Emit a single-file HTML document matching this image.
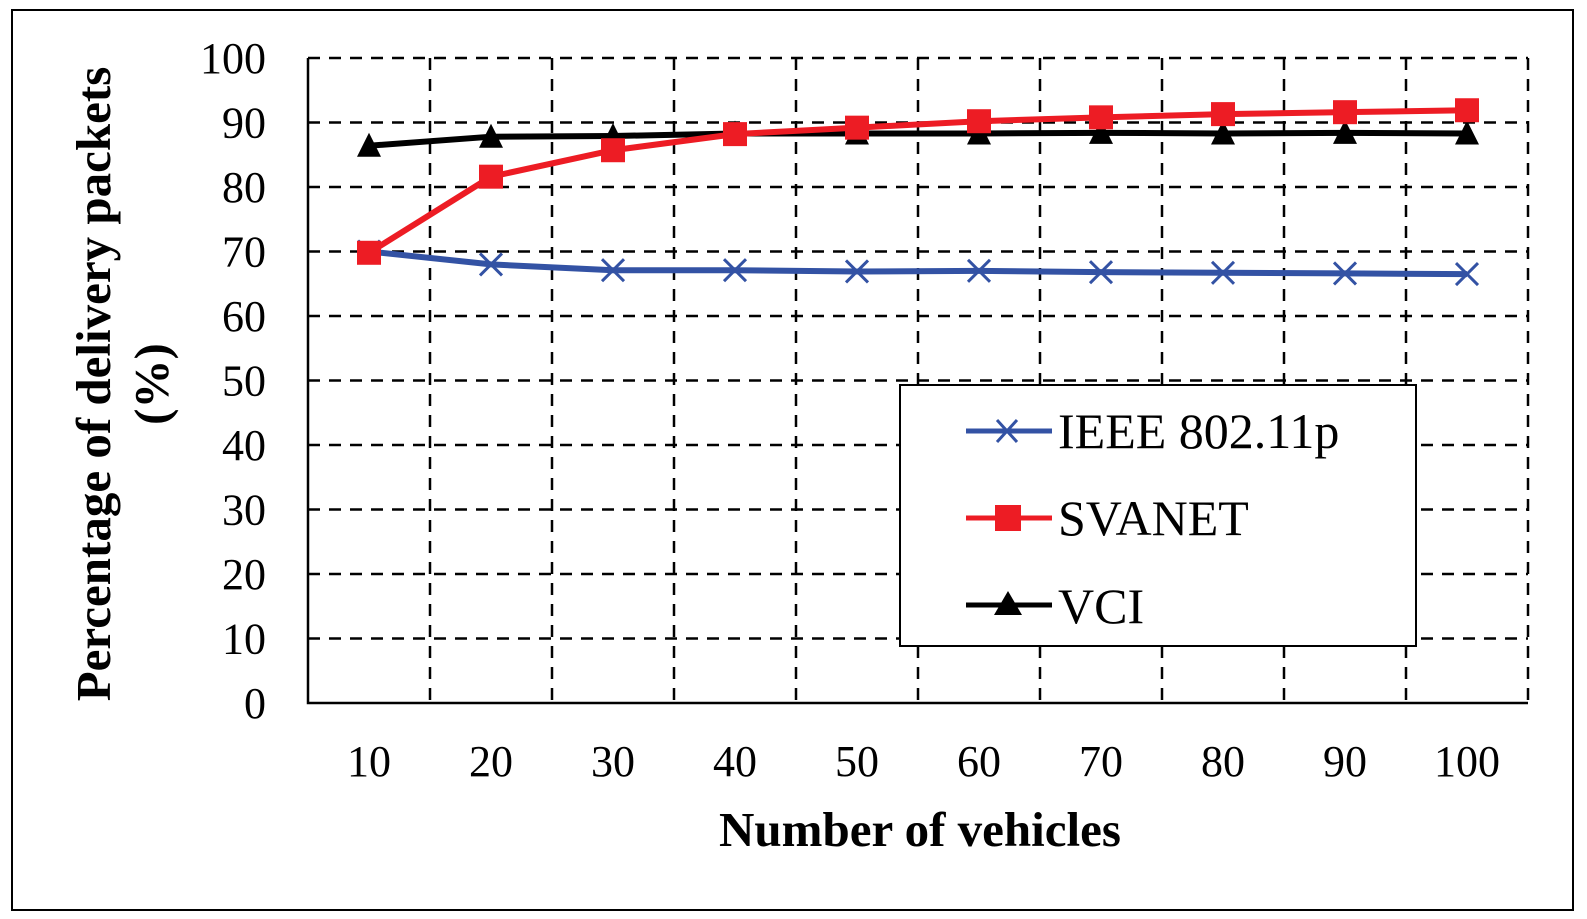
<!DOCTYPE html>
<html><head><meta charset="utf-8"><style>
body{margin:0;background:#fff;}
svg{display:block;font-family:"Liberation Serif",serif;}
</style></head><body>
<svg id="chart" width="1587" height="919">
<rect x="12" y="10" width="1561" height="900" fill="none" stroke="#000" stroke-width="2"/>
<g id="grid"></g><g id="axes"></g><g id="series"></g>
<text x="920" y="846" font-size="49" font-weight="bold" text-anchor="middle">Number of vehicles</text>
<text transform="translate(110,384) rotate(-90)" font-size="49" font-weight="bold" text-anchor="middle"><tspan x="0" dy="0">Percentage of delivery packets</tspan><tspan x="0" dy="58">(%)</tspan></text>
<g>
<rect x="900" y="385" width="516" height="261" fill="#fff" stroke="#000" stroke-width="2"/>
<g><line x1="966" y1="431" x2="1052" y2="431" stroke="#3352a4" stroke-width="5"/><path d="M997 420l20 22M1017 420l-20 22" stroke="#3352a4" stroke-width="3"/><text x="1058" y="448" font-size="50">IEEE 802.11p</text></g>
<g><line x1="966" y1="518" x2="1052" y2="518" stroke="#ed1c24" stroke-width="5"/><rect x="995" y="505" width="26" height="26" fill="#ed1c24"/><text x="1058" y="535" font-size="50">SVANET</text></g>
<g><line x1="966" y1="605" x2="1052" y2="605" stroke="#000" stroke-width="5"/><path d="M1008 591l14 24h-28z" fill="#000"/><text x="1058" y="623" font-size="50">VCI</text></g>
</g>
</svg>
<script>
const categories=[10,20,30,40,50,60,70,80,90,100];
const yTicks=[0,10,20,30,40,50,60,70,80,90,100];
const ieee=[70,68,67.1,67.1,66.9,67,66.8,66.7,66.6,66.5];
const svanet=[69.8,81.6,85.7,88.2,89.2,90.2,90.8,91.3,91.6,91.9];
const vci=[86.4,87.8,87.9,88.3,88.3,88.3,88.4,88.3,88.4,88.3];
const NS='http://www.w3.org/2000/svg';
const L=308,R=1528,T=58,B=703;
const band=(R-L)/categories.length;
const xs=i=>L+band*(i+0.5);
const ys=v=>B-(v/100)*(B-T);
function mk(tag,attrs,parent){const e=document.createElementNS(NS,tag);for(const k in attrs)e.setAttribute(k,attrs[k]);parent.appendChild(e);return e;}
const grid=document.getElementById('grid'),axes=document.getElementById('axes'),ser=document.getElementById('series');
yTicks.forEach(t=>{
 if(t>0){const g=mk('line',{x1:L,x2:R,y1:ys(t),y2:ys(t),stroke:'#000','stroke-width':2.5,'stroke-dasharray':'12 9'},grid);
 
 }
 const tx=mk('text',{x:266,y:ys(t)+15,'font-size':44,'text-anchor':'end'},axes);tx.textContent=t;
 
 
});
for(let i=1;i<=categories.length;i++){const x=L+band*i;
 const g=mk('line',{x1:x,x2:x,y1:T,y2:B,stroke:'#000','stroke-width':2.5,'stroke-dasharray':'12 9'},grid);
 
 }
categories.forEach((c,i)=>{const tx=mk('text',{x:xs(i),y:776,'font-size':44,'text-anchor':'middle'},axes);tx.textContent=c;
 
 });
const ax=mk('path',{d:`M${L} ${T}V${B}H${R}`,fill:'none',stroke:'#000','stroke-width':2.5},axes);


function line(data,color,name,marker){
 const g=mk('g',{},ser);
 
 
 mk('polyline',{points:data.map((v,i)=>xs(i)+','+ys(v)).join(' '),fill:'none',stroke:color,'stroke-width':6,'stroke-linejoin':'round'},g);
 data.forEach((v,i)=>{const x=xs(i),y=ys(v);let m;
  if(marker==='x')m=mk('path',{d:`M${x-11} ${y-11}l22 22M${x+11} ${y-11}l-22 22`,stroke:color,'stroke-width':3},g);
  else if(marker==='sq')m=mk('rect',{x:x-12,y:y-12,width:24,height:24,fill:color},g);
  else m=mk('path',{d:`M${x} ${y-13}l12 24h-24z`,fill:color},g);
  
  });
}
line(ieee,'#3352a4','ieee','x');
line(vci,'#000','vci','tri');
line(svanet,'#ed1c24','svanet','sq');
</script>
</body></html>
